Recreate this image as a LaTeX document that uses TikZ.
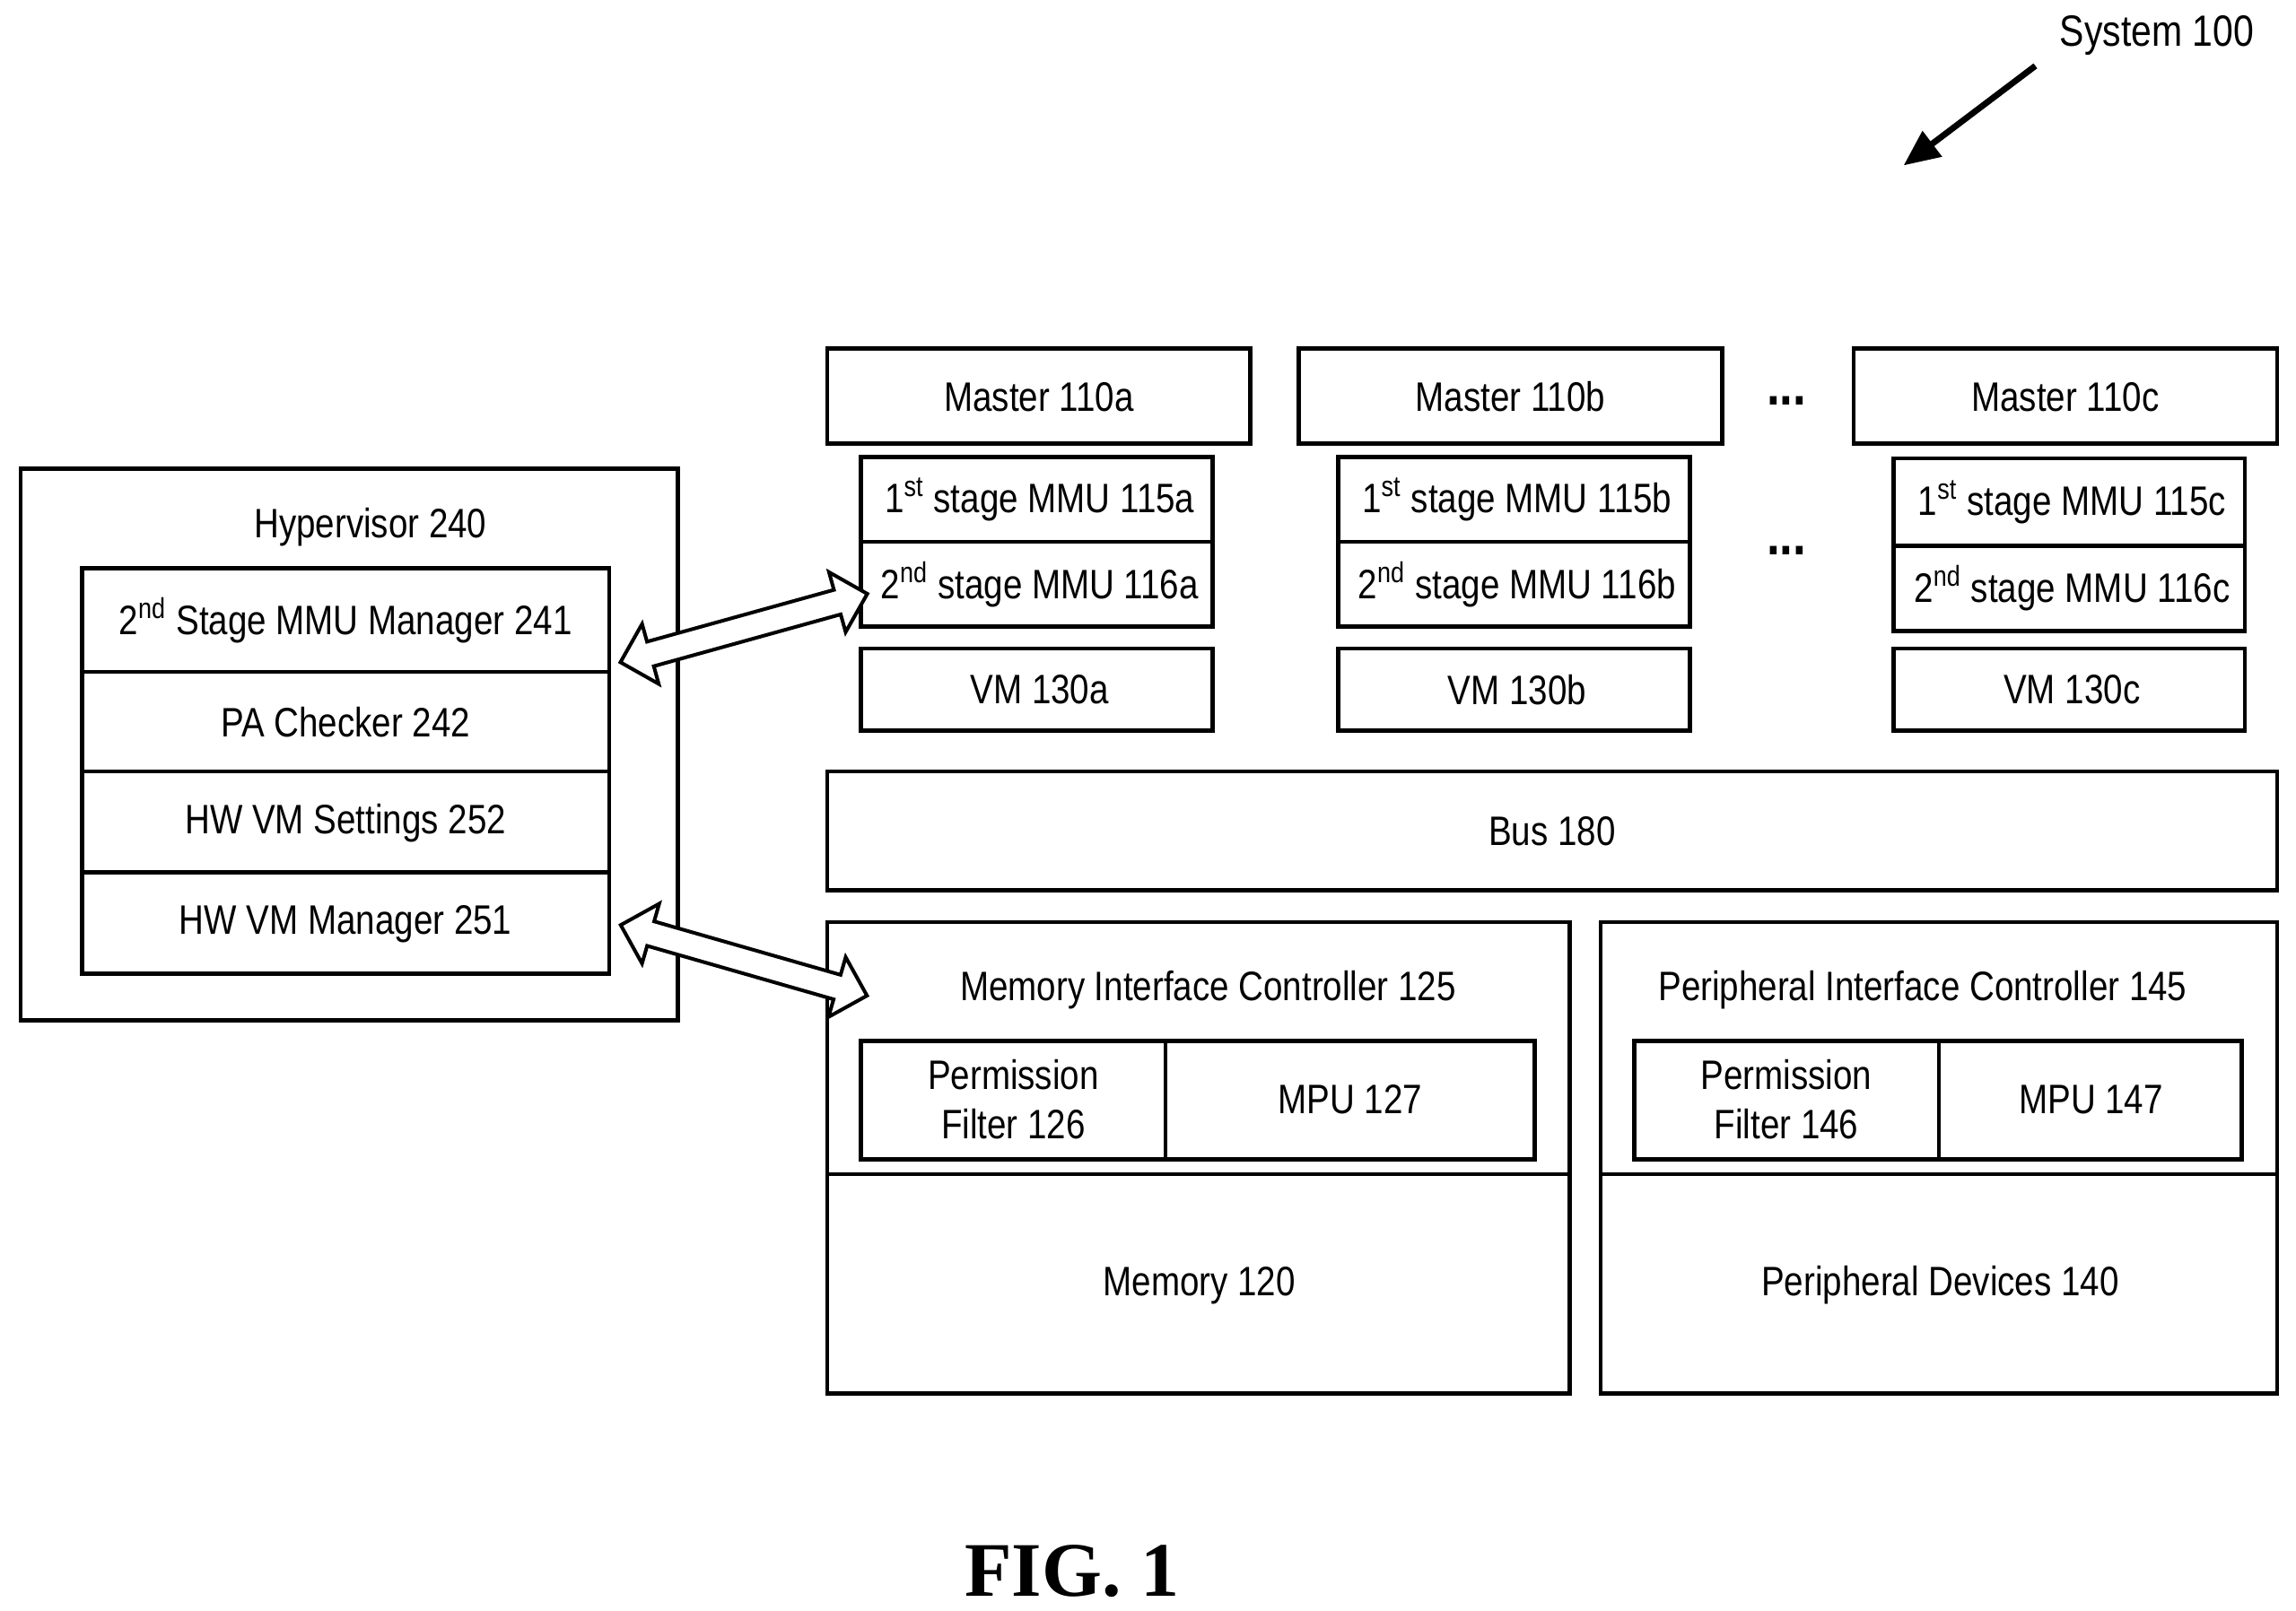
\documentclass[tikz,border=0pt]{standalone}
\usepackage{fontspec}
\setmainfont{Liberation Sans}[FakeStretch=0.84]
\newfontfamily\figfont{Liberation Serif}
\usetikzlibrary{shapes.arrows,arrows.meta}
\tikzset{
	blk/.style={draw, line width=1.6pt, inner sep=0pt},
	lbl/.style={font=\fontsize{16}{19}\selectfont, align=center},
	dbl/.style={double arrow, draw, line width=1.4pt, fill=white,
		minimum width=0.85cm, double arrow head extend=0.18cm, inner sep=0.1cm}
}
\newcommand{\ord}[2]{#1\textsuperscript{#2}}
\begin{document}
\begin{tikzpicture}[x={(0.02cm,0)}, y={(0,-0.02cm)}]
\useasboundingbox (0,0) rectangle (1568,1100);
% hypervisor
\draw[blk] (14,320) rectangle (463,697);
\node[lbl] (hyp) at (253,360) {Hypervisor 240};
\draw[blk] (56,388) rectangle (416,665);
\draw[blk] (56,459) -- (416,459) (56,527) -- (416,527) (56,596) -- (416,596);
\node[lbl] (mgr) at (236,424) {\ord{2}{nd} Stage MMU Manager 241};
\node[lbl] (pac) at (236,493) {PA Checker 242};
\node[lbl] (hws) at (236,562) {HW VM Settings 252};
\node[lbl] (hwm) at (236,631) {HW VM Manager 251};
% masters
\foreach \x/\w/\s/\yy in {565/289/a/0, 887/289/b/0, 1266/289/c/0}{
	\draw[blk] (\x,238) rectangle ++(\w,65);
	\node[lbl] (master\s) at (\x+144.5,271) {Master 110\s};
}
\foreach \x/\s/\ya/\yb/\yc in {588/a/312/370/428, 914/b/312/370/428, 1293/c/313/373/431}{
	\draw[blk] (\x,\ya) rectangle (\x+240,\yc);
	\draw[blk] (\x,\yb) -- (\x+240,\yb);
	\node[lbl] (mmuf\s) at (\x+122,{(\ya+\yb)/2}) {\ord{1}{st} stage MMU 115\s};
	\node[lbl] (mmus\s) at (\x+122,{(\yb+\yc)/2}) {\ord{2}{nd} stage MMU 116\s};
	\draw[blk] (\x,443) rectangle (\x+240,499);
	\node[lbl] (vm\s) at (\x+122,471) {VM 130\s};
}
\node[font=\fontsize{22}{22}\bfseries\selectfont] (dotsa) at (1220,274) {...};
\node[font=\fontsize{22}{22}\bfseries\selectfont] (dotsb) at (1220,376) {...};
% bus
\draw[blk] (565,527) rectangle (1555,608);
\node[lbl] (bus) at (1060,568) {Bus 180};
% memory side
\draw[blk] (565,630) rectangle (1072,952);
\draw[blk] (565,802) -- (1072,802);
\node[lbl] (mic) at (825,676) {Memory Interface Controller 125};
\draw[blk] (588,711) rectangle (1048,792);
\draw[blk] (796,711) -- (796,792);
\node[lbl] (pf1) at (692,751) {Permission\\Filter 126};
\node[lbl] (mpu1) at (922,751) {MPU 127};
\node[lbl] (mem) at (819,878) {Memory 120};
% peripheral side
\draw[blk] (1093,630) rectangle (1555,952);
\draw[blk] (1093,802) -- (1555,802);
\node[lbl] (pic) at (1313,676) {Peripheral Interface Controller 145};
\draw[blk] (1116,711) rectangle (1531,792);
\draw[blk] (1324,711) -- (1324,792);
\node[lbl] (pf2) at (1220,751) {Permission\\Filter 146};
\node[lbl] (mpu2) at (1428,751) {MPU 147};
\node[lbl] (per) at (1325,878) {Peripheral Devices 140};
% hollow arrows
\node[dbl, minimum height=3.5cm, rotate=15.5] (arra) at (508,429) {};
\node[dbl, minimum height=3.5cm, rotate=-16] (arrb) at (508,656) {};
% title
\node[lbl, font=\fontsize{17}{20}\selectfont] (sys) at (1473,24) {System 100};
\coordinate (sysend) at (1300,113);
\draw[line width=2.4pt, -{Triangle[length=14pt,width=12pt]}] (1390,45) -- (sysend);
\node[font=\figfont\fontsize{30}{30}\bfseries\selectfont] (fig) at (732,1073) {FIG. 1};
\end{tikzpicture}
\end{document}
